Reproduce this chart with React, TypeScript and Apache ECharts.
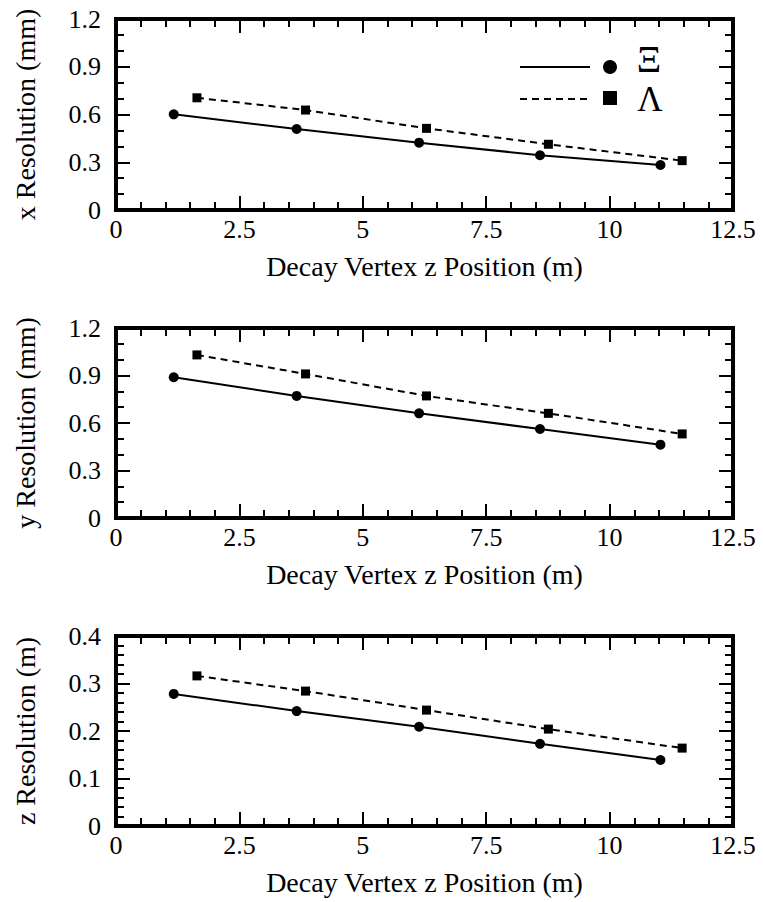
import React, { useEffect, useRef } from "react";
import * as echarts from "echarts";

const xiX = [1.17, 3.66, 6.14, 8.59, 11.03];
const lamX = [1.64, 3.84, 6.29, 8.76, 11.47];
const xResXi = [0.601, 0.509, 0.423, 0.344, 0.283];
const xResLam = [0.705, 0.628, 0.513, 0.413, 0.31];
const yResXi = [0.889, 0.771, 0.661, 0.562, 0.463];
const yResLam = [1.03, 0.91, 0.771, 0.661, 0.531];
const zResXi = [0.278, 0.242, 0.209, 0.173, 0.139];
const zResLam = [0.316, 0.284, 0.244, 0.204, 0.164];
const yTitles = ["x Resolution (mm)", "y Resolution (mm)", "z Resolution (m)"];
const xTitle = "Decay Vertex z Position (m)";
const yMax = [1.2, 1.2, 0.4];
const yInterval = [0.3, 0.3, 0.1];
const yMinorSplit = [3, 3, 5];
const legendNames = ["Ξ", "Λ"];

const FONT = "'Liberation Serif', 'Times New Roman', Times, serif";

function axisLine() {
  return { show: true, onZero: false, lineStyle: { color: "#000", width: 4, opacity: 1 } };
}
function majorTick() {
  return { show: true, inside: true, length: 14, lineStyle: { color: "#000", width: 2, opacity: 1 } };
}
function minorTick(n: number) {
  return { show: true, splitNumber: n, length: 8, lineStyle: { color: "#000", width: 2, opacity: 1 } };
}

export default function App() {
  const ref = useRef<HTMLDivElement>(null);
  useEffect(() => {
    if (!ref.current) return;
    const chart = echarts.init(ref.current, null, { renderer: "svg" });
    const tops = [19, 328, 636];
    const heights = [191, 190, 190];
    const grids = tops.map((t, i) => ({
      left: 116,
      right: 30,
      top: t,
      height: heights[i],
      show: true,
      borderWidth: 4,
      borderColor: "#000",
      backgroundColor: "transparent",
    }));
    const xAxes: any[] = [];
    const yAxes: any[] = [];
    for (let i = 0; i < 3; i++) {
      for (const pos of ["bottom", "top"]) {
        const ax: any = {
          type: "value",
          gridIndex: i,
          position: pos,
          min: 0,
          max: 12.5,
          interval: 2.5,
          axisLine: axisLine(),
          splitLine: { show: false },
          axisTick: majorTick(),
          minorTick: minorTick(5),
          axisLabel: { show: false },
        };
        if (pos === "bottom") {
          ax.axisLabel = { show: true, color: "#000", fontFamily: FONT, fontSize: 26, margin: 6 };
          ax.name = xTitle;
          ax.nameLocation = "middle";
          ax.nameGap = 42;
          ax.nameTextStyle = { color: "#000", fontFamily: FONT, fontSize: 28 };
        }
        xAxes.push(ax);
      }
      for (const pos of ["left", "right"]) {
        const ay: any = {
          type: "value",
          gridIndex: i,
          position: pos,
          min: 0,
          max: yMax[i],
          interval: yInterval[i],
          axisLine: axisLine(),
          splitLine: { show: false },
          axisTick: majorTick(),
          minorTick: minorTick(yMinorSplit[i]),
          axisLabel: { show: false },
        };
        if (pos === "left") {
          ay.axisLabel = {
            show: true,
            color: "#000",
            fontFamily: FONT,
            fontSize: 26,
            margin: 15,
            formatter: (v: number) => String(Math.round(v * 10) / 10),
          };
          ay.name = yTitles[i];
          ay.nameLocation = "middle";
          ay.nameRotate = 90;
          ay.nameGap = 77;
          ay.nameTextStyle = { color: "#000", fontFamily: FONT, fontSize: 28 };
        }
        yAxes.push(ay);
      }
    }
    const data = [
      [xResXi, xResLam],
      [yResXi, yResLam],
      [zResXi, zResLam],
    ];
    const series: any[] = [];
    for (let i = 0; i < 3; i++) {
      series.push({
        type: "line",
        xAxisIndex: 2 * i,
        yAxisIndex: 2 * i,
        data: xiX.map((x, k) => [x, data[i][0][k]]),
        symbol: "circle",
        symbolSize: 10,
        itemStyle: { color: "#000" },
        lineStyle: { color: "#000", width: 2 },
        z: 3,
      });
      series.push({
        type: "line",
        xAxisIndex: 2 * i,
        yAxisIndex: 2 * i,
        data: lamX.map((x, k) => [x, data[i][1][k]]),
        symbol: "rect",
        symbolSize: 9,
        itemStyle: { color: "#000" },
        lineStyle: { color: "#000", width: 2, type: [7, 5] },
        z: 3,
      });
    }
    const graphic: any[] = [
      { type: "line", shape: { x1: 520, y1: 67, x2: 590, y2: 67 }, style: { stroke: "#000", lineWidth: 2 } },
      { type: "circle", shape: { cx: 610, cy: 67, r: 7 }, style: { fill: "#000" } },
      {
        type: "text",
        x: 649,
        y: 59,
        style: { text: legendNames[0], font: `38px ${FONT}`, fill: "#000", align: "center", verticalAlign: "middle" },
      },
      { type: "line", shape: { x1: 520, y1: 99, x2: 590, y2: 99 }, style: { stroke: "#000", lineWidth: 2, lineDash: [7, 5] } },
      { type: "rect", shape: { x: 603, y: 91, width: 14, height: 14 }, style: { fill: "#000" } },
      {
        type: "text",
        x: 650,
        y: 99,
        style: { text: legendNames[1], font: `35px ${FONT}`, fill: "#000", align: "center", verticalAlign: "middle" },
      },
    ];
    chart.setOption({
      animation: false,
      backgroundColor: "#fff",
      grid: grids,
      xAxis: xAxes,
      yAxis: yAxes,
      series,
      graphic,
    });
    return () => chart.dispose();
  }, []);
  return <div ref={ref} style={{ position: "fixed", left: 0, top: 0, width: 763, height: 902 }} />;
}
